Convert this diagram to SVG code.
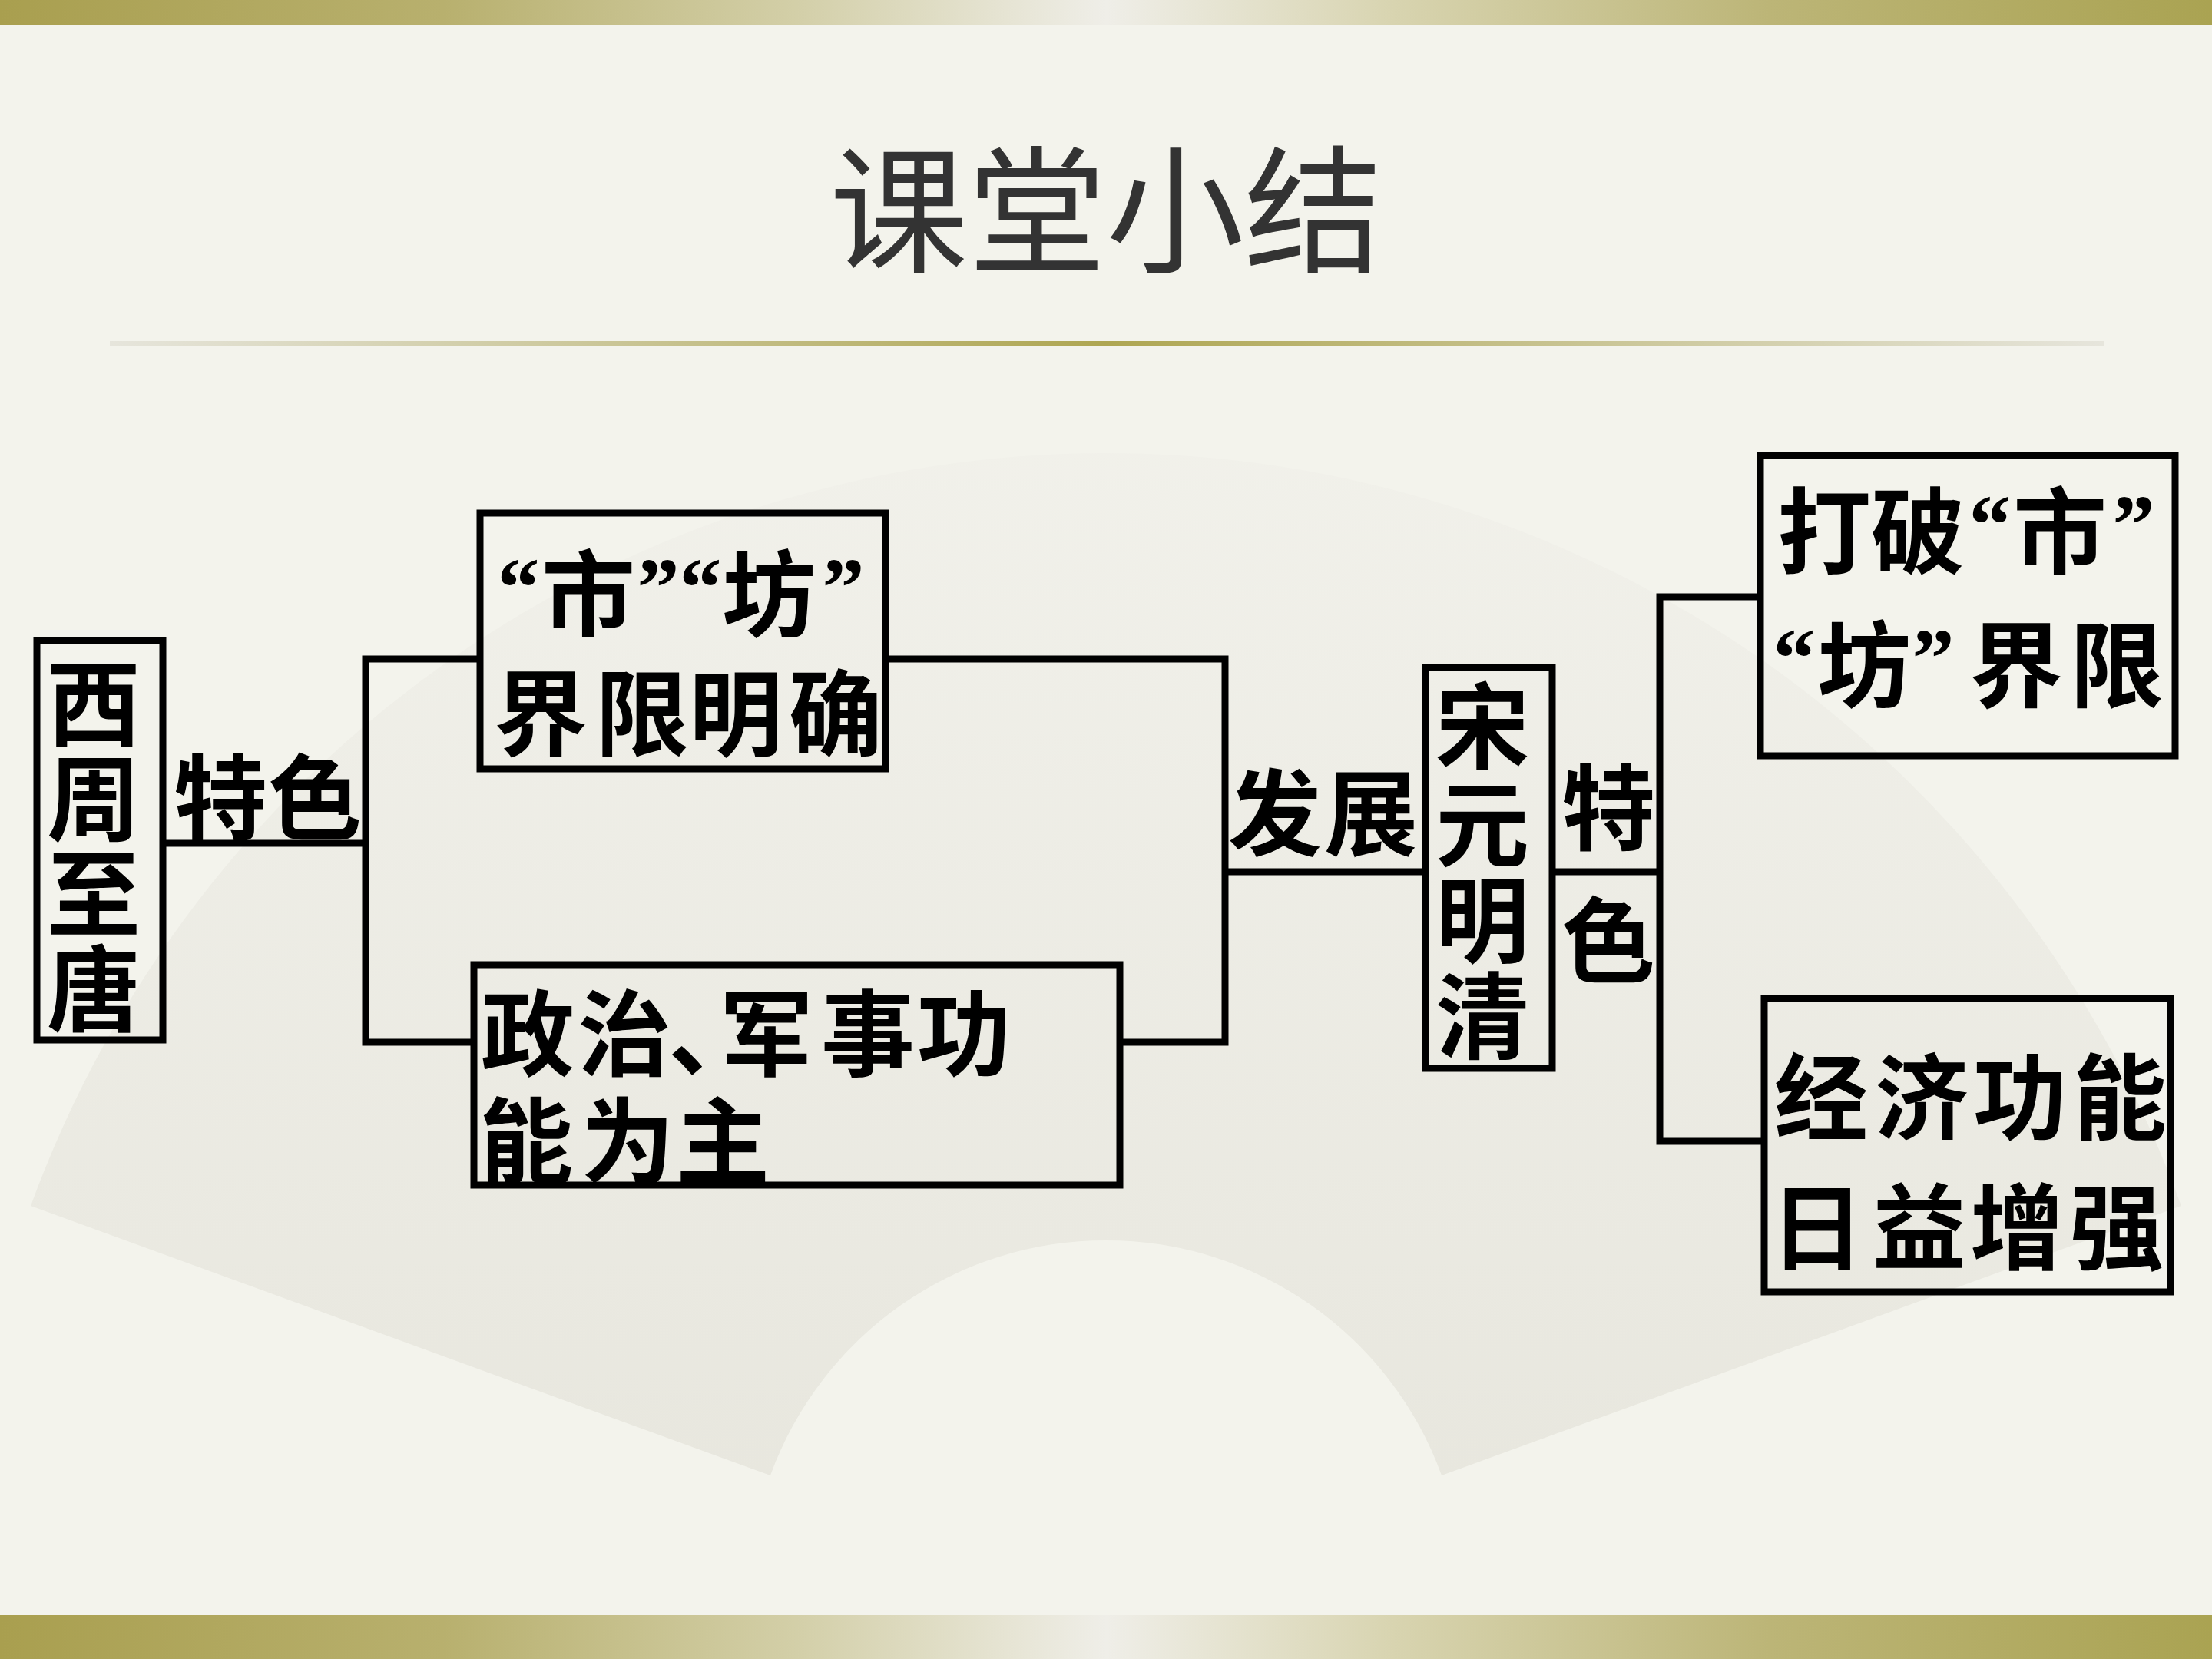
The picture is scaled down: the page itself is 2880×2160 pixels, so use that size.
<svg xmlns="http://www.w3.org/2000/svg" width="2880" height="2160" viewBox="0 0 2880 2160">
  <defs>
    <linearGradient id="bar" x1="0" y1="0" x2="1" y2="0">
      <stop offset="0" stop-color="#a99f4f"/>
      <stop offset="0.2" stop-color="#b8b06e"/>
      <stop offset="0.36" stop-color="#d3cfa8"/>
      <stop offset="0.5" stop-color="#efeee8"/>
      <stop offset="0.63" stop-color="#d8d4b0"/>
      <stop offset="0.8" stop-color="#bcb577"/>
      <stop offset="1" stop-color="#aaa352"/>
    </linearGradient>
    <linearGradient id="rule" x1="0" y1="0" x2="1" y2="0">
      <stop offset="0" stop-color="#e6e5dc"/>
      <stop offset="0.5" stop-color="#aea652"/>
      <stop offset="1" stop-color="#e6e5dc"/>
    </linearGradient>
    <linearGradient id="fan" x1="0" y1="0" x2="0" y2="1">
      <stop offset="0" stop-color="#efeee8"/>
      <stop offset="1" stop-color="#dddbd1"/>
    </linearGradient>
    <style>
      .box { fill: none; stroke: #000; stroke-width: 9; }
      .wire { fill: none; stroke: #000; stroke-width: 9; stroke-linejoin: miter; }
      .t { font-family: "Noto Sans CJK SC", "Noto Sans CJK TC", sans-serif; font-weight: 700; font-size: 122px; fill: #000; text-anchor: middle; dominant-baseline: central; }
      .q { font-family: "Liberation Serif", "Noto Sans CJK SC", serif; font-weight: 700; font-size: 110px; }
      .title { font-family: "Noto Sans CJK SC", "Noto Sans CJK TC", sans-serif; font-weight: 400; font-size: 180px; fill: #333; text-anchor: middle; dominant-baseline: central; }
    </style>
  </defs>

  <!-- background -->
  <rect x="0" y="0" width="2880" height="2160" fill="#f3f3ec"/>
  <path d="M 40 1570 A 1490 1490 0 0 1 2840 1570 L 1877 1921 A 465 465 0 0 0 1003 1921 Z" fill="url(#fan)" opacity="0.5"/>
  <rect x="0" y="0" width="2880" height="33" fill="url(#bar)"/>
  <rect x="0" y="2103" width="2880" height="57" fill="url(#bar)"/>
  <rect x="143" y="444" width="2596" height="6" fill="url(#rule)"/>

  <text class="title" x="1440" y="262">课堂小结</text>

  <!-- connectors -->
  <g id="connectors">
    <path class="wire" d="M 213 1098 L 476 1098"/>
    <path class="wire" d="M 624 858 L 476 858 L 476 1357 L 613 1357"/>
    <path class="wire" d="M 1157 858 L 1595 858 L 1595 1357 L 1462 1357"/>
    <path class="wire" d="M 1595 1135 L 1856 1135"/>
    <path class="wire" d="M 2021 1135 L 2161 1135"/>
    <path class="wire" d="M 2292 777 L 2161 777 L 2161 1486 L 2297 1486"/>
  </g>

  <!-- labels on connectors -->
  <g id="label-tese-1">
    <text class="t"><tspan x="287" y="1030">特</tspan><tspan x="410" y="1030">色</tspan></text>
  </g>
  <g id="label-fazhan">
    <text class="t"><tspan x="1660" y="1050">发</tspan><tspan x="1785" y="1050">展</tspan></text>
  </g>
  <g id="label-tese-2">
    <text class="t"><tspan x="2094" y="1043">特</tspan><tspan x="2094" y="1216">色</tspan></text>
  </g>

  <!-- nodes -->
  <g id="node-xizhou">
    <rect class="box" x="48" y="834" width="164" height="520"/>
    <text class="t"><tspan x="122" y="907">西</tspan><tspan x="122" y="1031">周</tspan><tspan x="122" y="1155">至</tspan><tspan x="122" y="1279">唐</tspan></text>
  </g>

  <g id="node-shifang">
    <rect class="box" x="625" y="668" width="528" height="333"/>
    <text class="t"><tspan class="q" x="675" y="765">“</tspan><tspan x="766" y="765">市</tspan><tspan class="q" x="857" y="765">”</tspan><tspan class="q" x="912" y="765">“</tspan><tspan x="1001" y="765">坊</tspan><tspan class="q" x="1098" y="765">”</tspan></text>
    <text class="t"><tspan x="704" y="920">界</tspan><tspan x="836" y="920">限</tspan><tspan x="958" y="920">明</tspan><tspan x="1088" y="920">确</tspan></text>
  </g>

  <g id="node-zhengzhi">
    <rect class="box" x="617" y="1256" width="841" height="287"/>
    <text class="t"><tspan x="687" y="1337">政</tspan><tspan x="813" y="1337">治</tspan><tspan x="931" y="1337">、</tspan><tspan x="998" y="1337">军</tspan><tspan x="1130" y="1337">事</tspan><tspan x="1255" y="1337">功</tspan></text>
    <text class="t"><tspan x="685" y="1477">能</tspan><tspan x="817" y="1477">为</tspan><tspan x="941" y="1477">主</tspan></text>
  </g>

  <g id="node-songyuan">
    <rect class="box" x="1856" y="869" width="165" height="522"/>
    <text class="t"><tspan x="1930" y="937">宋</tspan><tspan x="1930" y="1064">元</tspan><tspan x="1930" y="1189">明</tspan><tspan x="1930" y="1314">清</tspan></text>
  </g>

  <g id="node-dapo">
    <rect class="box" x="2292" y="593" width="540" height="391"/>
    <text class="t"><tspan x="2375" y="683">打</tspan><tspan x="2497" y="683">破</tspan><tspan class="q" x="2591" y="683">“</tspan><tspan x="2682" y="683">市</tspan><tspan class="q" x="2778" y="683">”</tspan></text>
    <text class="t"><tspan class="q" x="2336" y="857">“</tspan><tspan x="2427" y="857">坊</tspan><tspan class="q" x="2517" y="857">”</tspan><tspan x="2625" y="857">界</tspan><tspan x="2756" y="857">限</tspan></text>
  </g>

  <g id="node-jingji">
    <rect class="box" x="2297" y="1300" width="529" height="382"/>
    <text class="t"><tspan x="2371" y="1420">经</tspan><tspan x="2502" y="1420">济</tspan><tspan x="2630" y="1420">功</tspan><tspan x="2760" y="1420">能</tspan></text>
    <text class="t"><tspan x="2366" y="1589">日</tspan><tspan x="2499" y="1589">益</tspan><tspan x="2626" y="1589">增</tspan><tspan x="2756" y="1589">强</tspan></text>
  </g>
</svg>
